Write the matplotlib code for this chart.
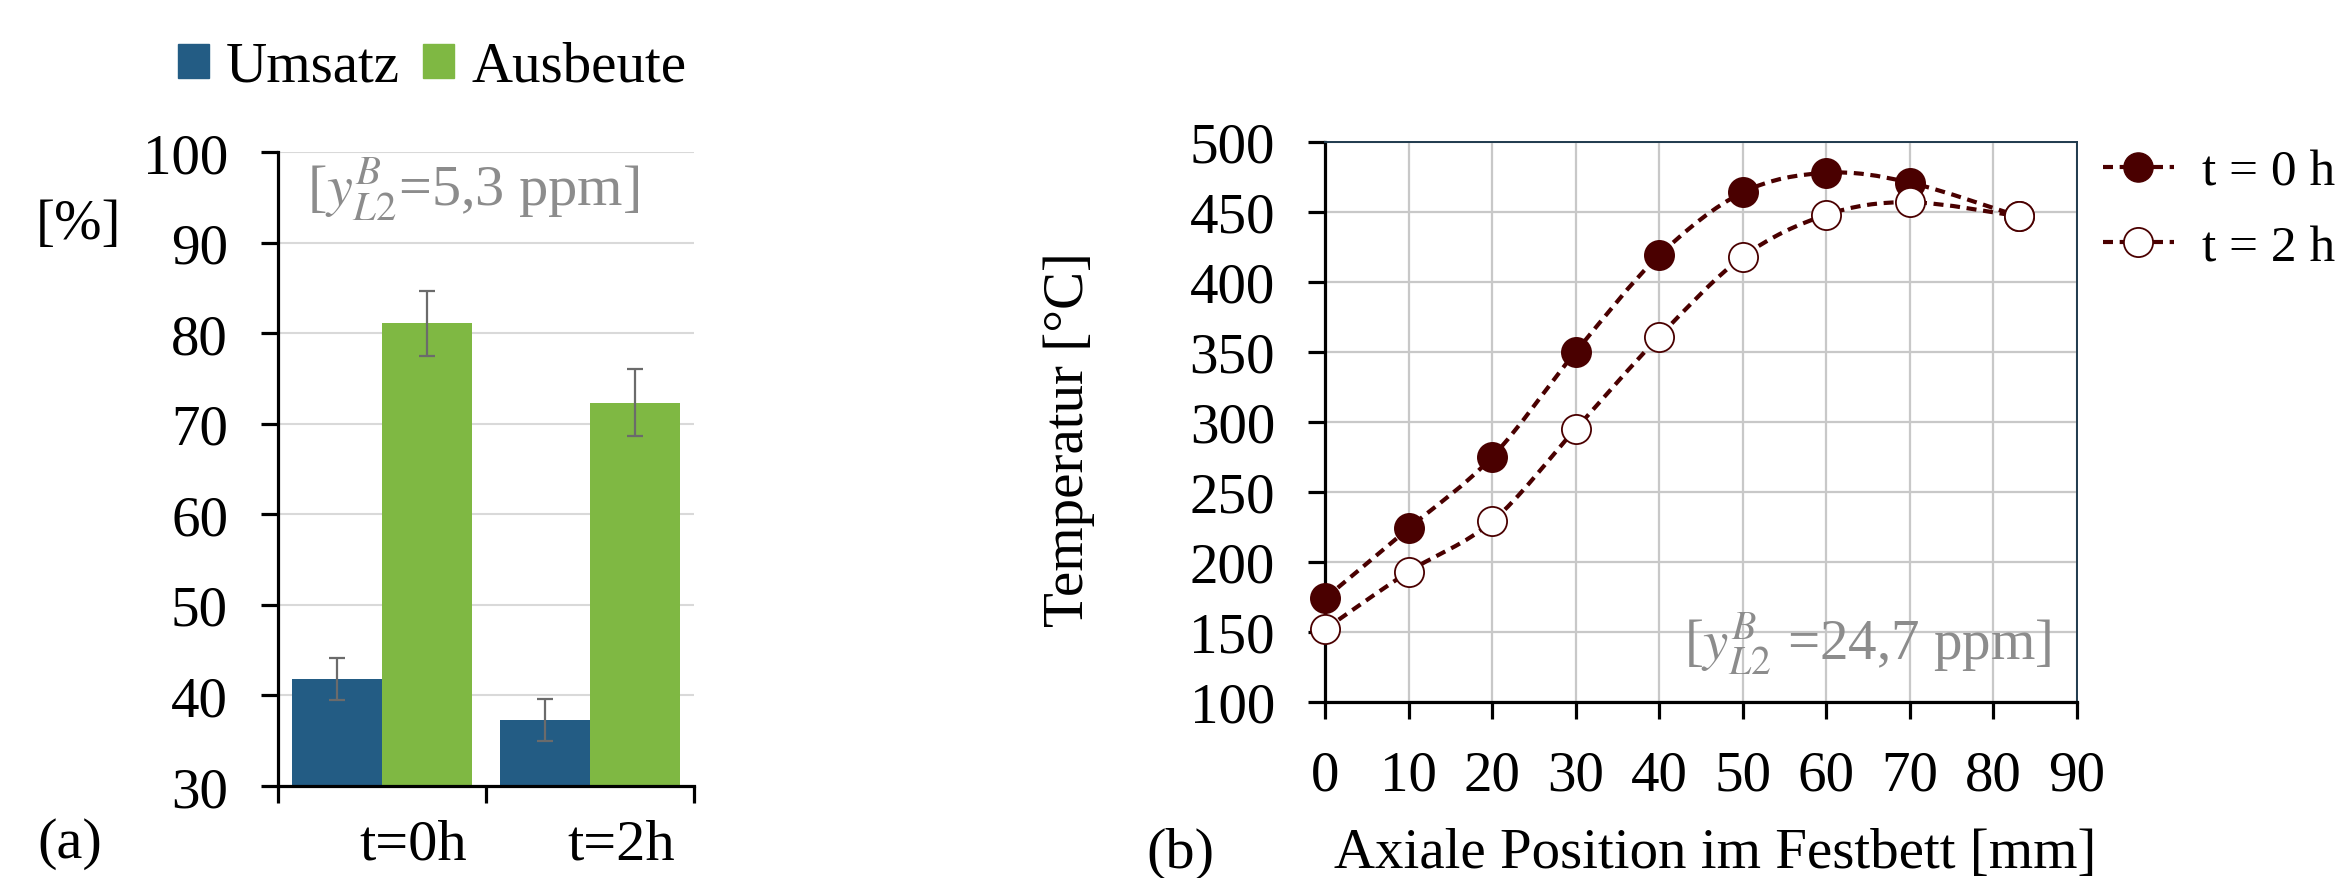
import numpy as np
import matplotlib
matplotlib.use("Agg")
import matplotlib.pyplot as plt
from matplotlib.path import Path
from matplotlib.patches import PathPatch, Patch
from matplotlib.lines import Line2D
from matplotlib.transforms import blended_transform_factory

plt.rcParams["font.family"] = ["Liberation Serif", "DejaVu Serif"]
plt.rcParams["mathtext.fontset"] = "stix"

# ─── (a) Umsatz / Ausbeute ────────────────────────────────────────
zeiten = ["t=0h", "t=2h"]
umsatz = [41.8, 37.3]
umsatz_err = [2.3, 2.3]
ausbeute = [81.1, 72.3]
ausbeute_err = [3.6, 3.7]
yticks_a = [30, 40, 50, 60, 70, 80, 90, 100]

# ─── (b) Temperaturprofil im Festbett ─────────────────────────────
position = [0, 10, 20, 30, 40, 50, 60, 70, 83]
temp_0h = [174, 224, 275, 350, 419, 464, 478, 471, 447]
temp_2h = [152, 193, 229, 295, 361, 418, 448, 457, 447]
xticks_b = [0, 10, 20, 30, 40, 50, 60, 70, 80, 90]
yticks_b = [100, 150, 200, 250, 300, 350, 400, 450, 500]

W, H = 2342, 879
FS = 41
BLUE = "#235c84"
GREEN = "#7fb843"
MAROON = "#4a0000"
GRAY_TXT = "#8c8c8c"


def fx(px):
    return px / W


def fy(py):
    return 1 - py / H


def smooth_path(x, y):
    """Excel-like smoothed line (Catmull-Rom as cubic Bezier)."""
    x = np.asarray(x, float)
    y = np.asarray(y, float)
    n = len(x)
    verts = [(x[0], y[0])]
    codes = [Path.MOVETO]
    for i in range(n - 1):
        i0 = max(i - 1, 0)
        i3 = min(i + 2, n - 1)
        c1 = (x[i] + (x[i + 1] - x[i0]) / 6, y[i] + (y[i + 1] - y[i0]) / 6)
        c2 = (x[i + 1] - (x[i3] - x[i]) / 6, y[i + 1] - (y[i3] - y[i]) / 6)
        verts += [c1, c2, (x[i + 1], y[i + 1])]
        codes += [Path.CURVE4] * 3
    return Path(verts, codes)


fig = plt.figure(figsize=(W / 100, H / 100), dpi=100)

# ── (a) bar chart ─────────────────────────────────────────────────
ax1 = fig.add_axes([fx(278), fy(787), fx(694) - fx(278), fy(153) - fy(787)])
pos = np.arange(len(zeiten))
bw = 0.433
ax1.bar(pos - bw / 2, umsatz, bw, color=BLUE, zorder=2)
ax1.bar(pos + bw / 2, ausbeute, bw, color=GREEN, zorder=2)
ax1.errorbar(pos - bw / 2, umsatz, yerr=umsatz_err, fmt="none",
             ecolor="#6b6b6b", elinewidth=1.6, capsize=6, capthick=1.6, zorder=3)
ax1.errorbar(pos + bw / 2, ausbeute, yerr=ausbeute_err, fmt="none",
             ecolor="#6b6b6b", elinewidth=1.6, capsize=6, capthick=1.6, zorder=3)
ax1.set_xlim(-0.5, 1.5)
ax1.set_ylim(30, 100)
ax1.set_yticks(yticks_a)
ax1.set_xticks([-0.5, 0.5, 1.5])
ax1.set_xticklabels([])
ax1.yaxis.grid(True, color="#d9d9d9", linewidth=1.5, zorder=0)
ax1.set_axisbelow(True)
for s in ["top", "right"]:
    ax1.spines[s].set_visible(False)
for s in ["left", "bottom"]:
    ax1.spines[s].set_linewidth(2.3)
ax1.tick_params(axis="y", direction="out", length=12, width=2.3, pad=24,
                labelsize=FS)
ax1.tick_params(axis="x", direction="out", length=12, width=2.3)
tr = blended_transform_factory(ax1.transData, fig.transFigure)
for p, lab in zip(pos, zeiten):
    ax1.text(p + 0.15, fy(860), lab, transform=tr, ha="center",
             va="baseline", fontsize=42)

fig.text(fx(78), fy(225), "[%]", ha="center", va="center", fontsize=FS)
fig.text(fx(307), fy(205), r"[$y_{L2}^{B}$=5,3 ppm]", ha="left",
         va="baseline", fontsize=42, color=GRAY_TXT)
fig.text(fx(70), fy(858), "(a)", ha="center", va="baseline", fontsize=42)
fig.legend(handles=[Patch(color=BLUE, label="Umsatz"),
                    Patch(color=GREEN, label="Ausbeute")],
           loc="center", bbox_to_anchor=(fx(432), fy(68)), ncol=2,
           frameon=False, fontsize=FS, handlelength=0.55, handleheight=0.55,
           handletextpad=0.3, columnspacing=0.4, borderpad=0)

# ── (b) temperature profile ──────────────────────────────────────
ax2 = fig.add_axes([fx(1325), fy(703), fx(2077) - fx(1325), fy(143) - fy(703)])
ax2.set_xlim(0, 90)
ax2.set_ylim(100, 500)
ax2.set_xticks(xticks_b)
ax2.set_yticks(yticks_b)
ax2.grid(True, color="#c8c8c8", linewidth=1.6, zorder=0)
ax2.set_axisbelow(True)
for s in ["top", "right"]:
    ax2.spines[s].set_linewidth(1.4)
    ax2.spines[s].set_color("#1f3a4d")
for s in ["left", "bottom"]:
    ax2.spines[s].set_linewidth(2.3)
ax2.tick_params(axis="both", direction="out", length=12, width=2.3,
                labelsize=FS)
ax2.tick_params(axis="y", pad=24)
ax2.tick_params(axis="x", pad=22)

dash = (0, (2.4, 1.6))
for temps, face in [(temp_0h, MAROON), (temp_2h, "white")]:
    ax2.add_patch(PathPatch(smooth_path(position, temps), fill=False,
                            edgecolor=MAROON, linewidth=3.0, linestyle=dash,
                            zorder=3))
    ax2.plot(position, temps, linestyle="none", marker="o", markersize=21,
             markerfacecolor=face, markeredgecolor=MAROON,
             markeredgewidth=1.3, zorder=4, clip_on=False)

ax2.text(fx(1684), fy(660), r"[$y_{L2}^{B}$ =24,7 ppm]",
         transform=fig.transFigure, ha="left", va="baseline", fontsize=FS,
         color=GRAY_TXT, zorder=2)
ax2.set_ylabel("Temperatur [°C]", fontsize=FS, labelpad=20)
ax2.yaxis.set_label_coords(fx(1095), 0.5, transform=fig.transFigure)
fig.text(fx(1715), fy(868), "Axiale Position im Festbett [mm]",
         ha="center", va="baseline", fontsize=FS)
fig.text(fx(1180), fy(868), "(b)", ha="center", va="baseline", fontsize=42)

leg_handles = [
    Line2D([], [], color=MAROON, linewidth=3.0, linestyle=dash, marker="o",
           markersize=21, markerfacecolor=MAROON, markeredgecolor=MAROON,
           label="t = 0 h"),
    Line2D([], [], color=MAROON, linewidth=3.0, linestyle=dash, marker="o",
           markersize=21, markerfacecolor="white", markeredgecolor=MAROON,
           markeredgewidth=1.3, label="t = 2 h"),
]
fig.legend(handles=leg_handles, loc="center left",
           bbox_to_anchor=(fx(2103), fy(211)), frameon=False, fontsize=37,
           handlelength=1.38, handletextpad=0.55, labelspacing=0.55,
           borderpad=0, borderaxespad=0)

fig.savefig("out.png", dpi=100)
